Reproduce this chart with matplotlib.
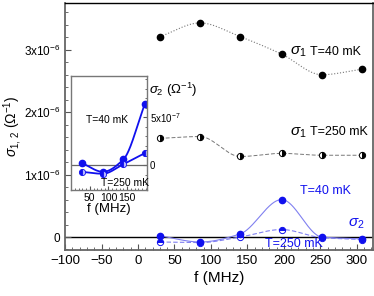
import numpy as np
import matplotlib
matplotlib.use("Agg")
import matplotlib.pyplot as plt
from matplotlib.ticker import MultipleLocator, FixedLocator, FixedFormatter

plt.rcParams['font.family'] = ['Liberation Sans', 'DejaVu Sans']
plt.rcParams['mathtext.fontset'] = 'custom'
plt.rcParams['mathtext.rm'] = 'Liberation Sans'
plt.rcParams['mathtext.it'] = 'Liberation Sans:italic'

# frequencies (MHz) and conductivities in units of 1e-6 Ohm^-1
freq = [30, 85, 140, 197, 252, 307]
sig1_40 = [3.21, 3.43, 3.21, 2.93, 2.60, 2.69]
sig1_250 = [1.58, 1.61, 1.29, 1.34, 1.31, 1.31]
sig2_40 = [0.02, -0.08, 0.05, 0.60, 0.00, -0.03]
sig2_250 = [-0.08, -0.09, 0.00, 0.12, -0.01, -0.04]

# inset (first four points, units of 1e-7)
freq_in = [30, 85, 140, 197]
sig2_40_in = [0.2, -0.7, 0.6, 6.35]
sig2_250_in = [-0.7, -0.9, 0.1, 1.25]


def pchip(x, y, xs):
    # shape preserving cubic through the points, only used to draw the guide curve
    x = np.asarray(x, float); y = np.asarray(y, float)
    h = np.diff(x); d = np.diff(y) / h
    n = len(x)
    m = np.zeros(n)
    for k in range(1, n - 1):
        if d[k - 1] * d[k] > 0:
            w1 = 2 * h[k] + h[k - 1]
            w2 = h[k] + 2 * h[k - 1]
            m[k] = (w1 + w2) / (w1 / d[k - 1] + w2 / d[k])
    m[0] = d[0]
    m[-1] = d[-1]
    i = np.clip(np.searchsorted(x, xs) - 1, 0, n - 2)
    t = (xs - x[i]) / h[i]
    h00 = 2 * t**3 - 3 * t**2 + 1
    h10 = t**3 - 2 * t**2 + t
    h01 = -2 * t**3 + 3 * t**2
    h11 = t**3 - t**2
    return h00 * y[i] + h10 * h[i] * m[i] + h01 * y[i + 1] + h11 * h[i] * m[i + 1]


fig = plt.figure(figsize=(3.74, 2.96), dpi=100)
ax = fig.add_axes([0.174, 0.155, 0.823, 0.835])

xs = np.linspace(freq[0], freq[-1], 300)
blue = '#1010ee'
light = '#8080f0'

ax.axhline(0, color='black', lw=1.0, zorder=1)
ax.plot(xs, pchip(freq, sig1_40, xs), ':', color='#777777', lw=0.8)
ax.plot(xs, pchip(freq, sig1_250, xs), '--', color='#777777', lw=0.7, dashes=(4, 2))
ax.plot(xs, pchip(freq, sig2_40, xs), '-', color=light, lw=0.8)
ax.plot(xs, pchip(freq, sig2_250, xs), '--', color=light, lw=0.8, dashes=(4, 2))

ax.plot(freq, sig1_40, 'o', color='black', ms=4.5)
ax.plot(freq, sig1_250, 'o', color='black', ms=4.5, fillstyle='right',
        markerfacecoloralt='white', mew=0.7)
ax.plot(freq, sig2_250, 'o', color=blue, ms=4.5, fillstyle='top',
        markerfacecoloralt='white', mew=0.7)
ax.plot(freq, sig2_40, 'o', color=blue, ms=4.5)

ax.set_xlim(-100, 322)
ax.set_ylim(-0.21, 3.75)
ax.xaxis.set_major_locator(MultipleLocator(50))
ax.xaxis.set_minor_locator(MultipleLocator(10))
ax.yaxis.set_major_locator(FixedLocator([0, 1, 2, 3]))
ax.yaxis.set_major_formatter(FixedFormatter(['0', r'1x10$^{-6}$', r'2x10$^{-6}$', r'3x10$^{-6}$']))
ax.yaxis.set_minor_locator(MultipleLocator(0.2))
ax.tick_params(which='both', direction='in', labelsize=8.5, color='#555555')
ax.tick_params(which='major', length=4)
ax.tick_params(which='minor', length=2)
ax.tick_params(axis='x', labelsize=9.5)
for s in ax.spines.values():
    s.set_color('#666666')
    s.set_linewidth(1.3)
ax.spines['top'].set_color('black')
ax.spines['top'].set_linewidth(1.0)

ax.set_xlabel('f (MHz)', fontsize=11, labelpad=3)
ax.set_ylabel(r'$\sigma_{1,\,2}$ ($\Omega^{-1}$)', fontsize=10)
ax.yaxis.set_label_coords(-0.135, 0.5)

ax.text(208, 2.92, r'$\sigma_1$', fontsize=11)
ax.text(236, 2.92, 'T=40 mK', fontsize=9)
ax.text(208, 1.63, r'$\sigma_1$', fontsize=11)
ax.text(236, 1.63, 'T=250 mK', fontsize=9)
ax.text(222, 0.69, 'T=40 mK', fontsize=9, color=blue)
ax.text(288, 0.17, r'$\sigma_2$', fontsize=11, color=blue)
ax.text(174, -0.16, 'T=250 mK', fontsize=9, color=blue)

# inset
ins = fig.add_axes([0.19, 0.358, 0.203, 0.385])
xi = np.linspace(freq_in[0], freq_in[-1], 200)
ins.axhline(0, color='#666666', lw=0.9)
ins.plot(xi, pchip(freq_in, sig2_40_in, xi), '-', color=blue, lw=1.3)
ins.plot(xi, pchip(freq_in, sig2_250_in, xi), '-', color=blue, lw=1.3)
ins.plot(freq_in, sig2_40_in, 'o', color=blue, ms=4.5)
ins.plot(freq_in, sig2_250_in, 'o', color=blue, ms=4.5, fillstyle='left',
         markerfacecoloralt='#b8b8ff', mew=0.6)
ins.set_xlim(0, 203)
ins.set_ylim(-2.6, 9.3)
ins.xaxis.set_major_locator(FixedLocator([50, 100, 150]))
ins.xaxis.set_minor_locator(MultipleLocator(10))
ins.yaxis.tick_right()
ins.yaxis.set_major_locator(FixedLocator([0, 5]))
ins.yaxis.set_major_formatter(FixedFormatter(['0', r'5x10$^{-7}$']))
ins.yaxis.set_minor_locator(MultipleLocator(1))
ins.tick_params(which='both', direction='in', labelsize=7.5, color='#555555', pad=2)
ins.tick_params(axis='y', labelsize=7)
ins.tick_params(which='major', length=3)
ins.tick_params(which='minor', length=1.5)
for s in ins.spines.values():
    s.set_color('#777777')
    s.set_linewidth(1.0)
ins.set_xlabel('f (MHz)', fontsize=9.5, labelpad=0)
ins.text(1.02, 0.96, r'$\sigma_2$ ($\Omega^{-1}$)', transform=ins.transAxes,
         fontsize=9.5, va='top')
ins.text(40, 4.4, 'T=40 mK', fontsize=7.5)
ins.text(80, -2.2, 'T=250 mK', fontsize=7.5)

fig.savefig('out.png', dpi=100)
